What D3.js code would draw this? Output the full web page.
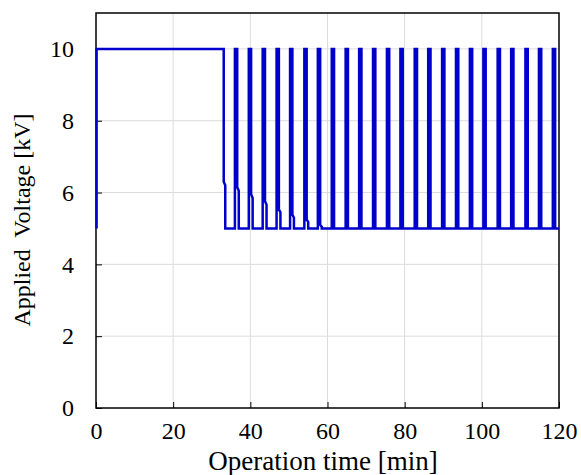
<!DOCTYPE html>
<html>
<head>
<meta charset="utf-8">
<script src="https://cdn.jsdelivr.net/npm/d3@7"></script>
<style>
  body { margin: 0; background: #fff; }
  svg text { font-family: "Liberation Serif", "Times New Roman", serif; }
</style>
</head>
<body>
<div id="chart"></div>
<script>
// Data (time in min, voltage in kV)
const riseTimes = [0, 36.0, 39.6, 43.2, 46.8, 50.3, 54.0, 57.5, 61.1, 64.7, 68.2, 71.8,
                   75.4, 78.9, 82.6, 86.1, 89.7, 93.3, 96.9, 100.4, 104.1, 107.6, 111.3, 114.8, 118.4];
const fallTimes = [33.1, 36.6, 40.2, 43.8, 47.4, 50.9, 54.6, 58.1, 61.7, 65.3, 68.8, 72.4,
                   76.0, 79.5, 83.2, 86.7, 90.3, 93.9, 97.5, 101.0, 104.7, 108.2, 111.9, 115.4, 119.0];
// short intermediate level right after a fall [start, end]
const dropLevels = [[6.3, 6.2], [6.15, 6.05], [5.95, 5.85], [5.76, 5.66], [5.53, 5.45],
                    [5.39, 5.3], [5.25, 5.18], [5.1, 5.05]];
const dropLength = 0.4;
const highLevel = 10;
const lowLevel = 5;
const endTime = 120;

const xTicks = [0, 20, 40, 60, 80, 100, 120];
const yTicks = [0, 2, 4, 6, 8, 10];

// build the waveform
const points = [[0.15, lowLevel]];
riseTimes.forEach((r, i) => {
  const rr = i === 0 ? 0.15 : r;
  points.push([rr, lowLevel], [rr, highLevel]);
  const f = fallTimes[i];
  points.push([f, highLevel]);
  const d = dropLevels[i];
  if (d) {
    points.push([f, d[0]], [f + dropLength, d[1]], [f + dropLength, lowLevel]);
  } else {
    points.push([f, lowLevel]);
  }
});
points.push([endTime, lowLevel]);

const W = 581, H = 475;
const margin = { top: 13, right: 22, bottom: 67, left: 96 };
const width = W - margin.left - margin.right;
const height = H - margin.top - margin.bottom;

const svg = d3.select("#chart").append("svg")
  .attr("width", W).attr("height", H);
const g = svg.append("g")
  .attr("transform", "translate(" + margin.left + "," + margin.top + ")");

const x = d3.scaleLinear().domain([0, 120]).range([0, width]);
const y = d3.scaleLinear().domain([0, 11]).range([height, 0]);

// grid
g.append("g").selectAll("line").data(xTicks.slice(1, -1)).enter().append("line")
  .attr("x1", d => x(d)).attr("x2", d => x(d))
  .attr("y1", 0).attr("y2", height)
  .attr("stroke", "#dcdcdc").attr("stroke-width", 1);
g.append("g").selectAll("line").data(yTicks.slice(1)).enter().append("line")
  .attr("y1", d => y(d)).attr("y2", d => y(d))
  .attr("x1", 0).attr("x2", width)
  .attr("stroke", "#dcdcdc").attr("stroke-width", 1);

// axes with inward ticks
const xAxis = g.append("g")
  .attr("transform", "translate(0," + height + ")")
  .call(d3.axisBottom(x).tickValues(xTicks).tickSizeInner(-6).tickSizeOuter(0).tickPadding(14));
const yAxis = g.append("g")
  .call(d3.axisLeft(y).tickValues(yTicks).tickSizeInner(-6).tickSizeOuter(0).tickPadding(22));

[xAxis, yAxis].forEach(a => {
  a.attr("font-family", "Liberation Serif, serif").attr("font-size", 24);
  a.select(".domain").remove();
  a.selectAll(".tick line").attr("stroke", "#000");
  a.selectAll(".tick text").attr("fill", "#000");
});

// frame
g.append("rect")
  .attr("width", width).attr("height", height)
  .attr("fill", "none").attr("stroke", "#000").attr("stroke-width", 1.5);

// line
const line = d3.line().x(d => x(d[0])).y(d => y(d[1]));
g.append("path")
  .datum(points)
  .attr("d", line)
  .attr("fill", "none")
  .attr("stroke", "#0000cc")
  .attr("stroke-width", 2.5);

// axis titles
svg.append("text")
  .attr("x", 323)
  .attr("y", 470)
  .attr("text-anchor", "middle")
  .attr("font-size", 27)
  .text("Operation time [min]");

svg.append("text")
  .attr("transform", "translate(30,220) rotate(-90)")
  .attr("text-anchor", "middle")
  .attr("font-size", 24)
  .style("white-space", "pre")
  .text("Applied  Voltage [kV]");
</script>
</body>
</html>
